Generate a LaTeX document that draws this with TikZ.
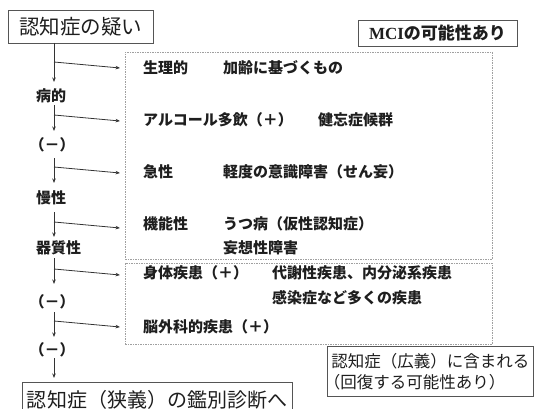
\documentclass[tikz,border=0pt]{standalone}
\usepackage{fontspec}
\setmainfont{Noto Sans CJK JP}
\newfontfamily\mcifont{Liberation Serif}
\usetikzlibrary{arrows.meta}
\definecolor{ink}{HTML}{1E1E1E}
\definecolor{linec}{HTML}{333333}
\definecolor{boxc}{HTML}{555555}
\definecolor{dashc}{HTML}{A0A0A0}
\tikzset{
  solidbox/.style={draw=boxc, line width=0.8pt, inner sep=0pt, text=ink},
  dbox/.style={draw=dashc, dash pattern=on 1.5pt off 1pt, line width=0.6pt, inner sep=0pt},
  lab/.style={font=\bfseries\fontsize{15}{17}\selectfont, text=ink, inner sep=0pt},
  item/.style={font=\bfseries\fontsize{15}{17}\selectfont, text=ink, inner sep=0pt, anchor=west},
  flow/.style={draw=linec, line width=0.8pt, -{Stealth[length=4.5pt,width=3.5pt]}},
}
\begin{document}
\begin{tikzpicture}[x=1pt,y=-1pt]
\useasboundingbox (0,0) rectangle (535,409);
% boxes
\node[solidbox, minimum width=145, minimum height=33, font=\fontsize{20.5}{22}\selectfont] (start) at (80.5,26.5) {認知症の疑い};
\node[solidbox, minimum width=159, minimum height=26, font=\bfseries\fontsize{17}{19}\selectfont] (mci) at (437.5,33) {{\mcifont MCI}の可能性あり};
\node[dbox, anchor=north west, minimum width=367, minimum height=207] (g1) at (125,52) {};
\node[dbox, anchor=north west, minimum width=367, minimum height=81] (g2) at (125,263) {};
\node[solidbox, minimum width=270, minimum height=36, font=\fontsize{20}{22}\selectfont] (end) at (157,400) {認知症（狭義）の鑑別診断へ};
\node[solidbox, anchor=north west, minimum width=206, minimum height=50, text width=198, inner xsep=4pt, align=left, font=\fontsize{16.5}{21}\selectfont] (wide) at (327,346) {認知症（広義）に含まれる\\\hspace*{-0.45em}（回復する可能性あり）};
% left column labels
\node[lab, anchor=west] (l1) at (36,96) {病的};
\node[lab] (l2) at (52,145) {（－）};
\node[lab, anchor=west] (l3) at (36,198) {慢性};
\node[lab, anchor=west] (l4) at (36,248) {器質性};
\node[lab] (l5) at (52,302) {（－）};
\node[lab] (l6) at (52,350) {（－）};
% items
\node[item] (i1) at (143,68) {生理的};
\node[item] (i1b) at (223,68) {加齢に基づくもの};
\node[item] (i2) at (143,120) {アルコール多飲（＋）};
\node[item] (i2b) at (318,120) {健忘症候群};
\node[item] (i3) at (143,172) {急性};
\node[item] (i3b) at (223,172) {軽度の意識障害（せん妄）};
\node[item] (i4) at (143,224) {機能性};
\node[item] (i4b) at (223,224) {うつ病（仮性認知症）};
\node[item] (i4c) at (223,248) {妄想性障害};
\node[item] (i5) at (143,273) {身体疾患（＋）};
\node[item] (i5b) at (272,273) {代謝性疾患、内分泌系疾患};
\node[item] (i5c) at (272,298) {感染症など多くの疾患};
\node[item] (i6) at (143,327) {脳外科的疾患（＋）};
% coordinates on the main column
\coordinate (s1) at (54,43);   \coordinate (v1) at (54,82);
\coordinate (s2) at (54,105);  \coordinate (v2) at (54,131);
\coordinate (s3) at (54,158);  \coordinate (v3) at (54,183);
\coordinate (s4) at (54,212);  \coordinate (v4) at (54,237);
\coordinate (s5) at (54,258);  \coordinate (v5) at (54,284);
\coordinate (s6) at (54,312);  \coordinate (v6) at (54,337);
\coordinate (s7) at (54,358);  \coordinate (v7) at (54,378);
\coordinate (b1) at (54,62);   \coordinate (e1) at (120,68);
\coordinate (b2) at (54,115);  \coordinate (e2) at (120,121);
\coordinate (b3) at (54,167);  \coordinate (e3) at (120,173);
\coordinate (b4) at (54,222);  \coordinate (e4) at (120,228);
\coordinate (b5) at (54,269);  \coordinate (e5) at (120,275);
\coordinate (b6) at (54,321);  \coordinate (e6) at (120,327);
\foreach \i in {1,...,7} {\draw[flow] (s\i) -- (v\i);}
\foreach \i in {1,...,6} {\draw[flow] (b\i) -- (e\i);}
\end{tikzpicture}
\end{document}
